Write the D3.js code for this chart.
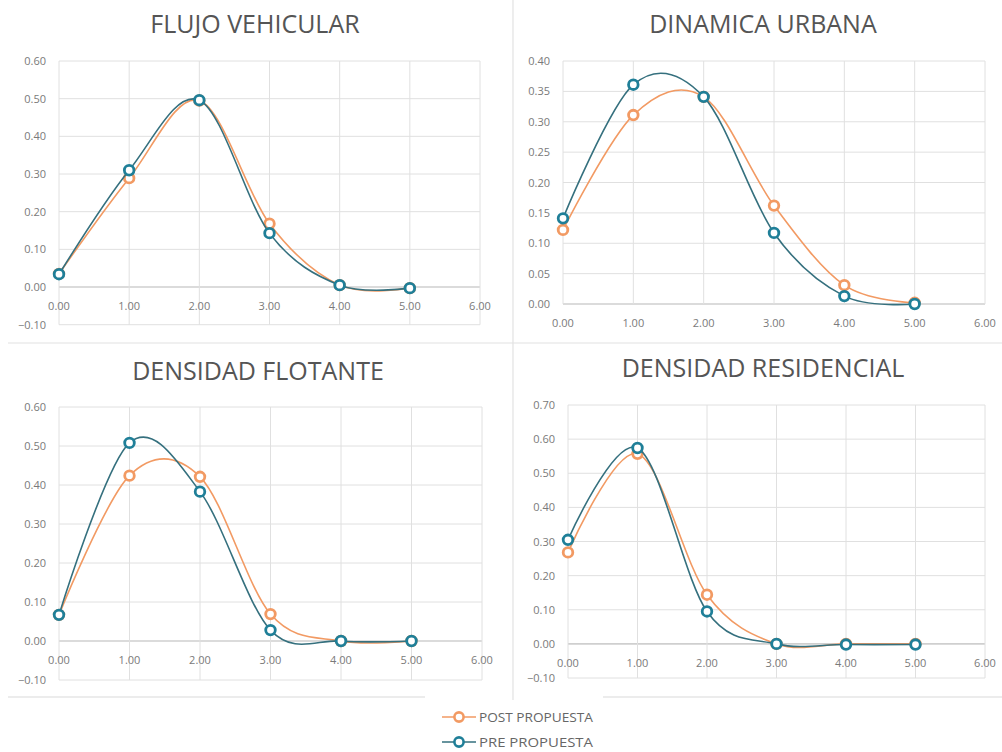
<!DOCTYPE html>
<html><head><meta charset="utf-8">
<script src="https://cdn.jsdelivr.net/npm/d3@7"></script>
<style>body{margin:0;background:#fff;} svg{display:block;}</style>
</head><body>
<svg id="c" width="1002" height="752"></svg>
<script>
const xValues = [0, 1, 2, 3, 4, 5];
const xTicks = [0, 1, 2, 3, 4, 5, 6];
const titles = ["FLUJO VEHICULAR", "DINAMICA URBANA", "DENSIDAD FLOTANTE", "DENSIDAD RESIDENCIAL"];
const seriesNames = ["POST PROPUESTA", "PRE PROPUESTA"];

const flujoPost = [0.035, 0.289, 0.495, 0.168, 0.005, -0.003];
const flujoPre  = [0.034, 0.310, 0.496, 0.143, 0.005, -0.003];
const dinamicaPost = [0.122, 0.311, 0.341, 0.162, 0.031, 0.002];
const dinamicaPre  = [0.141, 0.361, 0.341, 0.117, 0.013, 0.000];
const flotantePost = [0.067, 0.424, 0.421, 0.069, 0.000, 0.000];
const flotantePre  = [0.067, 0.508, 0.383, 0.028, 0.000, 0.000];
const residencialPost = [0.268, 0.557, 0.144, 0.000, 0.000, 0.000];
const residencialPre  = [0.305, 0.574, 0.095, 0.000, -0.002, -0.002];

const yTicks1 = [-0.1, 0, 0.1, 0.2, 0.3, 0.4, 0.5, 0.6];
const yTicks2 = [0, 0.05, 0.1, 0.15, 0.2, 0.25, 0.3, 0.35, 0.4];
const yTicks3 = [-0.1, 0, 0.1, 0.2, 0.3, 0.4, 0.5, 0.6];
const yTicks4 = [-0.1, 0, 0.1, 0.2, 0.3, 0.4, 0.5, 0.6, 0.7];

const colors = {post: "#F29A63", pre: "#1F7F98", preLine: "#35707E"};

const panels = [
  {title: titles[0], post: flujoPost, pre: flujoPre, ticks: yTicks1, x0: 59, x1: 480, yTop: 61, yBot: 324.7, tx: 255, ty: 33},
  {title: titles[1], post: dinamicaPost, pre: dinamicaPre, ticks: yTicks2, x0: 563, x1: 985, yTop: 61, yBot: 304, tx: 763, ty: 33},
  {title: titles[2], post: flotantePost, pre: flotantePre, ticks: yTicks3, x0: 59, x1: 482, yTop: 407, yBot: 680, tx: 258, ty: 380},
  {title: titles[3], post: residencialPost, pre: residencialPre, ticks: yTicks4, x0: 568, x1: 985, yTop: 405, yBot: 678, tx: 763, ty: 377}
];

const svg = d3.select("#c");
const font = "'Open Sans', 'Noto Sans', sans-serif";

// panel separators
svg.append("line").attr("x1", 513).attr("x2", 513).attr("y1", 0).attr("y2", 700).attr("stroke", "#e2e2e2").attr("stroke-width", 1.2);
svg.append("line").attr("x1", 8).attr("x2", 1002).attr("y1", 343).attr("y2", 343).attr("stroke", "#e2e2e2").attr("stroke-width", 1.2);
svg.append("line").attr("x1", 8).attr("x2", 425).attr("y1", 697).attr("y2", 697).attr("stroke", "#e6e6e6").attr("stroke-width", 1.5);
svg.append("line").attr("x1", 603).attr("x2", 1002).attr("y1", 697).attr("y2", 697).attr("stroke", "#e6e6e6").attr("stroke-width", 1.5);

const curve = d3.curveCardinal.tension(0);

panels.forEach(p => {
  const g = svg.append("g");
  const x = d3.scaleLinear().domain([0, 6]).range([p.x0, p.x1]);
  const y = d3.scaleLinear().domain([p.ticks[0], p.ticks[p.ticks.length - 1]]).range([p.yBot, p.yTop]);

  // grid
  g.selectAll(".hg").data(p.ticks).enter().append("line")
    .attr("x1", p.x0).attr("x2", p.x1).attr("y1", d => y(d)).attr("y2", d => y(d))
    .attr("stroke", d => d === 0 ? "#cfcfcf" : "#e0e0e0").attr("stroke-width", d => d === 0 ? 1.6 : 1);
  g.selectAll(".vg").data(xTicks).enter().append("line")
    .attr("x1", d => x(d)).attr("x2", d => x(d)).attr("y1", p.yTop).attr("y2", p.yBot)
    .attr("stroke", "#e0e0e0").attr("stroke-width", 1);

  // y labels
  g.selectAll(".yl").data(p.ticks).enter().append("text")
    .attr("x", p.x0 - 13).attr("y", d => y(d) + 4).attr("text-anchor", "end")
    .attr("font-family", font).attr("font-size", 11).attr("fill", "#7a7a7a")
    .text(d => d3.format(".2f")(d));
  // x labels below the zero line
  g.selectAll(".xl").data(xTicks).enter().append("text")
    .attr("x", d => x(d)).attr("y", y(0) + 23).attr("text-anchor", "middle")
    .attr("font-family", font).attr("font-size", 11).attr("fill", "#7a7a7a")
    .text(d => d3.format(".2f")(d));

  // title
  g.append("text").attr("x", p.tx).attr("y", p.ty).attr("text-anchor", "middle")
    .attr("font-family", font).attr("font-size", 25).attr("fill", "#555")
    .text(p.title);

  const line = d3.line().x((d, i) => x(xValues[i])).y(d => y(d)).curve(curve);

  [["post", p.post, colors.post, colors.post], ["pre", p.pre, colors.preLine, colors.pre]].forEach(([k, vals, lc, mc]) => {
    g.append("path").attr("d", line(vals)).attr("fill", "none").attr("stroke", lc).attr("stroke-width", 1.6);
    g.selectAll(".m" + k).data(vals).enter().append("circle")
      .attr("cx", (d, i) => x(xValues[i])).attr("cy", d => y(d)).attr("r", 4.8)
      .attr("fill", "#fff").attr("stroke", mc).attr("stroke-width", 2.8);
  });
});

// legend
const legend = svg.append("g");
[[seriesNames[0], colors.post, colors.post, 717], [seriesNames[1], colors.preLine, colors.pre, 742]].forEach(([name, lc, mc, yy]) => {
  legend.append("line").attr("x1", 442).attr("x2", 476).attr("y1", yy).attr("y2", yy).attr("stroke", lc).attr("stroke-width", 1.6);
  legend.append("circle").attr("cx", 459).attr("cy", yy).attr("r", 4.6).attr("fill", "#fff").attr("stroke", mc).attr("stroke-width", 2.6);
  legend.append("text").attr("x", 479).attr("y", yy + 4.5).attr("font-family", font).attr("font-size", 12)
    .attr("fill", "#666").attr("textLength", 114).attr("lengthAdjust", "spacingAndGlyphs").text(name);
});
</script>
</body></html>
